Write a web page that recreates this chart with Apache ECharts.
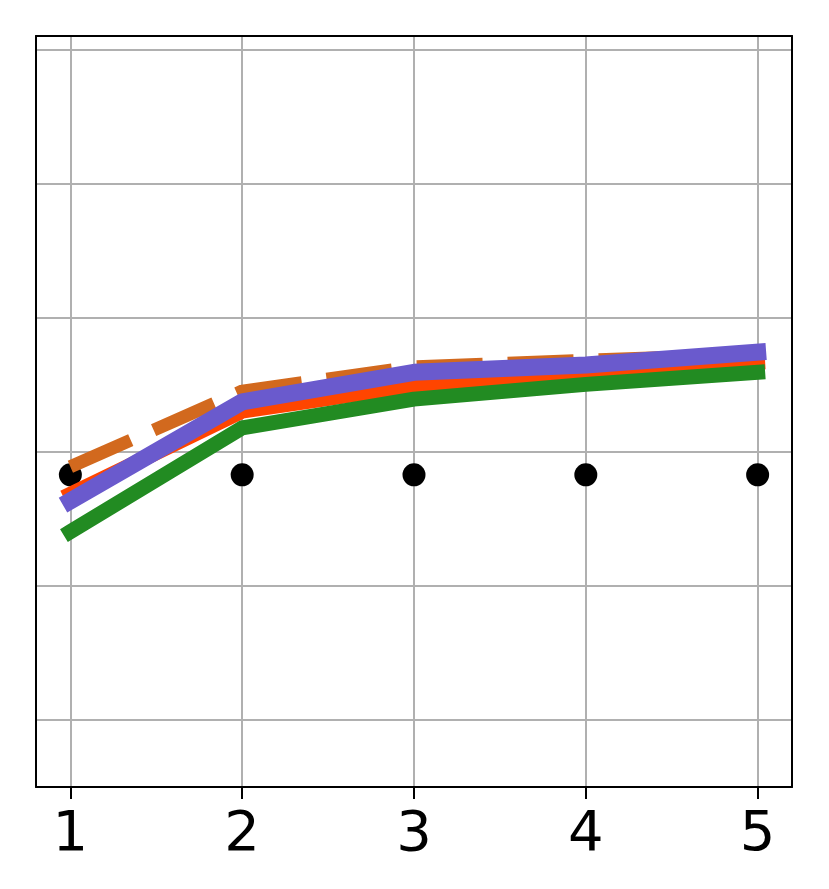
<!DOCTYPE html>
<html>
<head>
<meta charset="utf-8">
<script src="https://cdn.jsdelivr.net/npm/echarts@6/dist/echarts.min.js"></script>
<style>
  html, body { margin: 0; padding: 0; background: #fff; }
  #chart { width: 829px; height: 889px; }
</style>
</head>
<body>
<div id="chart"></div>
<script>
var xValues = [1, 2, 3, 4, 5];
var orangeDashed = [0.378, 0.491, 0.527, 0.537, 0.546];
var redLine = [0.337, 0.461, 0.499, 0.518, 0.534];
var greenLine = [0.281, 0.436, 0.479, 0.501, 0.519];
var purpleLine = [0.327, 0.475, 0.519, 0.530, 0.549];
var blackDots = [0.366, 0.366, 0.366, 0.366, 0.366];

function pairs(ys) {
  return xValues.map(function (x, i) { return [x, ys[i]]; });
}

var chart = echarts.init(document.getElementById('chart'));

var frameLine = { show: true, onZero: false, lineStyle: { color: '#000', width: 2 } };

var option = {
  animation: false,
  grid: {
    left: 36,
    right: 37,
    top: 36,
    bottom: 102
  },
  xAxis: [
    {
      type: 'value',
      min: 0.8,
      max: 5.2,
      splitNumber: 5,
      axisLine: { show: false, onZero: false },
      axisTick: { show: true, length: 12, lineStyle: { color: '#000', width: 2 } },
      axisLabel: {
        showMinLabel: false,
        showMaxLabel: false,
        margin: 20,
        color: '#000',
        fontSize: 56,
        fontFamily: 'DejaVu Sans'
      },
      splitLine: { show: true, lineStyle: { color: '#b0b0b0', width: 2 } }
    },
    // frame: bottom and top edges
    {
      type: 'value', min: 0.8, max: 5.2, position: 'bottom', z: 5,
      axisLine: frameLine, axisTick: { show: false }, axisLabel: { show: false }, splitLine: { show: false }
    },
    {
      type: 'value', min: 0.8, max: 5.2, position: 'top', z: 5,
      axisLine: frameLine, axisTick: { show: false }, axisLabel: { show: false }, splitLine: { show: false }
    }
  ],
  yAxis: [
    {
      type: 'value',
      min: -0.1,
      max: 1.021,
      splitNumber: 5,
      axisLine: { show: false, onZero: false },
      axisTick: { show: false },
      axisLabel: { show: false },
      splitLine: { show: true, lineStyle: { color: '#b0b0b0', width: 2 } }
    },
    {
      type: 'value', min: -0.1, max: 1.021, position: 'left', z: 5,
      axisLine: frameLine, axisTick: { show: false }, axisLabel: { show: false }, splitLine: { show: false }
    },
    {
      type: 'value', min: -0.1, max: 1.021, position: 'right', z: 5,
      axisLine: frameLine, axisTick: { show: false }, axisLabel: { show: false }, splitLine: { show: false }
    }
  ],
  series: [
    {
      type: 'line',
      data: pairs(orangeDashed),
      showSymbol: false,
      lineStyle: { color: '#d2691e', width: 13, type: [66, 25], cap: 'butt', join: 'round' }
    },
    {
      type: 'line',
      data: pairs(redLine),
      showSymbol: false,
      lineStyle: { color: '#ff4500', width: 15, cap: 'square', join: 'round' }
    },
    {
      type: 'line',
      data: pairs(greenLine),
      showSymbol: false,
      lineStyle: { color: '#228b22', width: 15, cap: 'square', join: 'round' }
    },
    {
      type: 'line',
      data: pairs(purpleLine),
      showSymbol: false,
      lineStyle: { color: '#6a5acd', width: 17, cap: 'square', join: 'round' }
    },
    {
      type: 'scatter',
      data: pairs(blackDots),
      symbol: 'circle',
      symbolSize: 23,
      itemStyle: { color: '#000', opacity: 1 }
    }
  ]
};

chart.setOption(option);
</script>
</body>
</html>
